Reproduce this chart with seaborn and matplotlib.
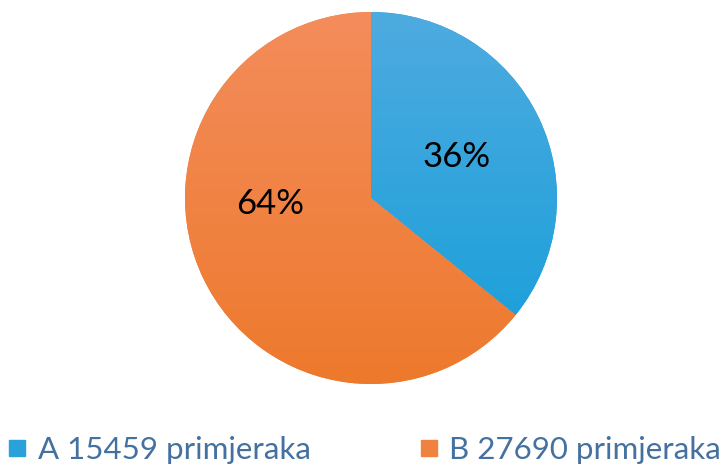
import matplotlib
matplotlib.use("Agg")
import matplotlib.pyplot as plt
import numpy as np
import seaborn as sns
from matplotlib.colors import LinearSegmentedColormap
from matplotlib.lines import Line2D

# data
categories = ["A 15459 primjeraka", "B 27690 primjeraka"]
counts = [15459, 27690]
colors = ["#2ba1db", "#f0823f"]
# top -> bottom shading of each slice
shades = [("#4eabe0", "#149ed9"), ("#f48d5c", "#ed792c")]

sns.set_theme(style="white")
plt.rcParams["font.family"] = ["Lato", "DejaVu Sans"]

fig = plt.figure(figsize=(7.24, 4.66), dpi=100)

# pie centre ~ (371, 198) px, radius ~186 px
W, H = 724, 466
cx, cy, r = 371, 198, 186
ax = fig.add_axes([(cx - r) / W, (H - cy - r) / H, 2 * r / W, 2 * r / H])

wedges, texts, autotexts = ax.pie(
    counts,
    colors=colors,
    startangle=90,
    counterclock=False,
    radius=1,
    autopct=lambda p: f"{p:.0f}%",
    pctdistance=0.51,
    textprops={"fontsize": 25, "color": "black", "zorder": 5},
    wedgeprops={"linewidth": 0},
)

# soft vertical gradient inside each slice
grad = np.linspace(0, 1, 256).reshape(-1, 1)
for w, (top, bottom) in zip(wedges, shades):
    cmap = LinearSegmentedColormap.from_list("g", [top, bottom])
    im = ax.imshow(grad, cmap=cmap, extent=(-1, 1, -1, 1), aspect="auto",
                   origin="upper", zorder=2)
    im.set_clip_path(w)

# the larger label sits left of centre in the reference
autotexts[1].set_position((-0.54, -0.03))

ax.set_xlim(-1, 1)
ax.set_ylim(-1, 1)
ax.set_aspect("equal")
ax.axis("off")

handles = [
    Line2D([0], [0], marker="s", linestyle="", markersize=11.5,
           markerfacecolor=c, markeredgecolor=c)
    for c in colors
]
leg = fig.legend(
    handles, categories,
    loc="center left",
    bbox_to_anchor=(0.0117, 0.035),
    ncol=2,
    frameon=False,
    fontsize=22.5,
    handlelength=0.57,
    handletextpad=0.36,
    columnspacing=3.5,
    borderaxespad=0,
    borderpad=0,
)
for t in leg.get_texts():
    t.set_color("#44719f")

fig.savefig("out.png", dpi=100)
